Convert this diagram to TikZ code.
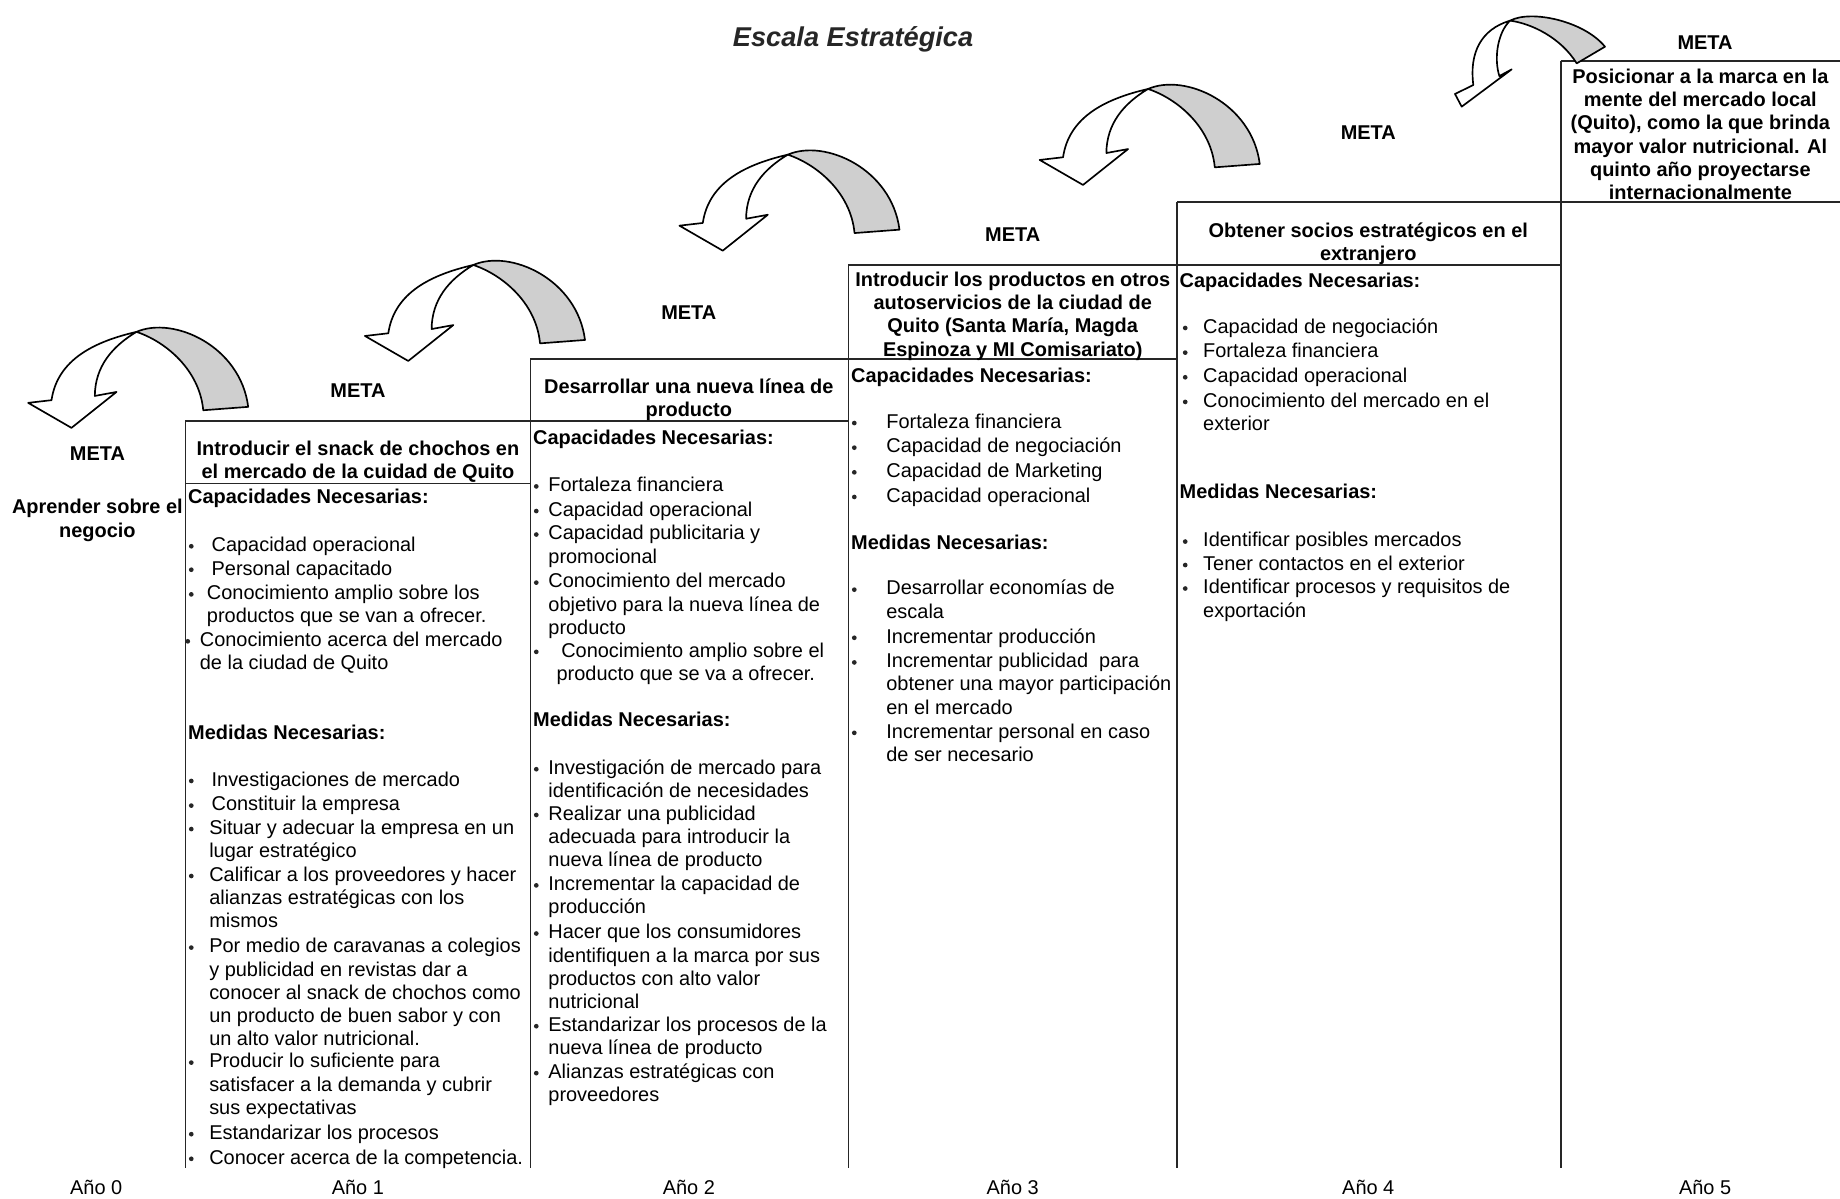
\documentclass[tikz,border=0pt]{standalone}
\usepackage{fontspec}
\setmainfont{Liberation Sans}
\newcommand\bodyfont{\fontsize{10.2pt}{11.9pt}\selectfont}
\newcounter{ln}
\tikzset{
  txt/.style={anchor=base west,inner sep=0pt,font=\bodyfont},
  txtb/.style={anchor=base west,inner sep=0pt,font=\bodyfont\bfseries},
  txtc/.style={anchor=base,inner sep=0pt,font=\bodyfont\bfseries},
  yearlbl/.style={anchor=base,inner sep=0pt,font=\bodyfont},
  boxline/.style={line width=0.9pt,draw=black!85},
  ribbonline/.style={line width=0.85pt,draw=black,line join=round},
  backface/.style={ribbonline,fill=gray!38},
  frontface/.style={ribbonline,fill=white},
  dot/.style={fill=black!85},
}
\newcommand\mytx[3]{\stepcounter{ln}\node[txt] (L\theln) at (#1,#2+5) {\begin{tabular}[t]{@{}l@{}}#3\end{tabular}};}
\newcommand\myhd[3]{\stepcounter{ln}\node[txtb] (L\theln) at (#1,#2+5) {#3};}
\newcommand\myctr[3]{\stepcounter{ln}\node[txtc] (L\theln) at (#1,#2+5) {\begin{tabular}[t]{@{}c@{}}#3\end{tabular}};}
\newcommand\mybul[4]{\fill[dot] (#1,#3+0.5) circle (1.2pt); \mytx{#2}{#3}{#4}}
\newcommand\ribbonA[2]{%
  \begin{scope}[shift={(#1,#2)}]
    \draw[backface] (403.3,225.8) .. controls (435,212) and (492,238) .. (498.5,289.7) -- (460.2,292.6) .. controls (457,258) and (428,234) .. (403.3,225.8) -- cycle;
    \draw[frontface] (330.9,284) .. controls (336,249) and (368,234) .. (403.3,225.8) .. controls (383,238) and (368,255) .. (367.8,280.4) -- (386.3,277) -- (347.9,307.6) -- (311,286.3) -- cycle;
  \end{scope}}
\begin{document}
\begin{tikzpicture}[x=0.6pt,y=-0.6pt]
\useasboundingbox (0,0) rectangle (1568,1021);
\fill[white] (0,0) rectangle (1568,1021);

% staircase lines
\draw[boxline] (158,359) -- (723,359);
\draw[boxline] (158,412) -- (452,412);
\draw[boxline] (452,306) -- (1003,306);
\draw[boxline] (723,225.5) -- (1330,225.5);
\draw[boxline] (1003,172) -- (1568,172);
\draw[boxline] (1330,52) -- (1568,52);
\draw[boxline] (158,359) -- (158,995);
\draw[boxline] (452,306) -- (452,995);
\draw[boxline] (723,225.5) -- (723,995);
\draw[boxline] (1003,172) -- (1003,995);
\draw[boxline] (1330,52) -- (1330,995);

% ribbon arrows
\ribbonA{-287}{57}
\ribbonA{0}{0}
\ribbonA{268}{-94}
\ribbonA{575}{-150}
\draw[backface] (1286.8,17.6) .. controls (1305,8) and (1350,18) .. (1367.7,39.8) -- (1343.6,54) .. controls (1330,32) and (1305,20) .. (1286.8,17.6) -- cycle;
\draw[frontface] (1255.5,72.4) .. controls (1252,45) and (1262,25) .. (1286.8,17.6) .. controls (1276,28) and (1273,50) .. (1277.7,64.8) -- (1288.2,59.1) -- (1245.6,90.9) -- (1239.9,80.1) -- cycle;

% title
\node[anchor=base,inner sep=0pt,font=\fontsize{13.9pt}{17pt}\selectfont\bfseries\itshape,text=black!85] (title) at (727,40) {Escala Estratégica};

% META labels
\node[txtc] (m0) at (83,392) {META};
\node[txtc] (m1) at (305,339) {META};
\node[txtc] (m2) at (587,272) {META};
\node[txtc] (m3) at (863,206) {META};
\node[txtc] (m4) at (1166,119) {META};
\node[txtc] (m5) at (1453,42) {META};

% goals
\myctr{83}{433}{Aprender sobre el\\negocio}
\myctr{305}{383}{Introducir el snack de chochos en\\el mercado de la cuidad de Quito}
\myctr{587}{330}{Desarrollar una nueva línea de\\producto}
\myctr{863}{239}{Introducir los productos en otros\\autoservicios de la ciudad de\\Quito (Santa María, Magda\\Espinoza y MI Comisariato)}
\myctr{1166}{197}{Obtener socios estratégicos en el\\extranjero}
\myctr{1449}{66}{Posicionar a la marca en la\\mente del mercado local\\(Quito), como la que brinda\\mayor valor nutricional. Al\\quinto año proyectarse\\internacionalmente}

% Box 1
\myhd{160}{424}{Capacidades Necesarias:}
\mybul{163}{180}{465}{Capacidad operacional}
\mybul{163}{180}{485}{Personal capacitado}
\mybul{163}{176}{506}{Conocimiento amplio sobre los\\productos que se van a ofrecer.}
\mybul{160}{170}{546}{Conocimiento acerca del mercado\\de la ciudad de Quito}
\myhd{160}{625}{Medidas Necesarias:}
\mybul{163}{180}{665}{Investigaciones de mercado}
\mybul{163}{180}{686}{Constituir la empresa}
\mybul{163}{178}{706}{Situar y adecuar la empresa en un\\lugar estratégico}
\mybul{163}{178}{746}{Calificar a los proveedores y hacer\\alianzas estratégicas con los\\mismos}
\mybul{163}{178}{807}{Por medio de caravanas a colegios\\y publicidad en revistas dar a\\conocer al snack de chochos como\\un producto de buen sabor y con\\un alto valor nutricional.}
\mybul{163}{178}{905}{Producir lo suficiente para\\satisfacer a la demanda y cubrir\\sus expectativas}
\mybul{163}{178}{966}{Estandarizar los procesos}
\mybul{163}{178}{987}{Conocer acerca de la competencia.}

% Box 2
\myhd{454}{374}{Capacidades Necesarias:}
\mybul{457}{467}{414}{Fortaleza financiera}
\mybul{457}{467}{435}{Capacidad operacional}
\mybul{457}{467}{455}{Capacidad publicitaria y\\promocional}
\mybul{457}{467}{496}{Conocimiento del mercado\\objetivo para la nueva línea de\\producto}
\mybul{457}{474}{555}{\hspace*{2.4pt}Conocimiento amplio sobre el\\producto que se va a ofrecer.}
\myhd{454}{614}{Medidas Necesarias:}
\mybul{457}{467}{655}{Investigación de mercado para\\identificación de necesidades}
\mybul{457}{467}{694}{Realizar una publicidad\\adecuada para introducir la\\nueva línea de producto}
\mybul{457}{467}{754}{Incrementar la capacidad de\\producción}
\mybul{457}{467}{795}{Hacer que los consumidores\\identifiquen a la marca por sus\\productos con alto valor\\nutricional}
\mybul{457}{467}{874}{Estandarizar los procesos de la\\nueva línea de producto}
\mybul{457}{467}{914}{Alianzas estratégicas con\\proveedores}

% Box 3
\myhd{725}{321}{Capacidades Necesarias:}
\mybul{728}{755}{360}{Fortaleza financiera}
\mybul{728}{755}{381}{Capacidad de negociación}
\mybul{728}{755}{402}{Capacidad de Marketing}
\mybul{728}{755}{423}{Capacidad operacional}
\myhd{725}{463}{Medidas Necesarias:}
\mybul{728}{755}{502}{Desarrollar economías de\\escala}
\mybul{728}{755}{543}{Incrementar producción}
\mybul{728}{755}{564}{Incrementar publicidad\ \ para\\obtener una mayor participación\\en el mercado}
\mybul{728}{755}{624}{Incrementar personal en caso\\de ser necesario}

% Box 4
\myhd{1005}{240}{Capacidades Necesarias:}
\mybul{1010}{1025}{279}{Capacidad de negociación}
\mybul{1010}{1025}{300}{Fortaleza financiera}
\mybul{1010}{1025}{321}{Capacidad operacional}
\mybul{1010}{1025}{342}{Conocimiento del mercado en el\\exterior}
\myhd{1005}{420}{Medidas Necesarias:}
\mybul{1010}{1025}{461}{Identificar posibles mercados}
\mybul{1010}{1025}{481}{Tener contactos en el exterior}
\mybul{1010}{1025}{501}{Identificar procesos y requisitos de\\exportación}

% years
\node[yearlbl] (y0) at (82,1018) {Año 0};
\node[yearlbl] (y1) at (305,1018) {Año 1};
\node[yearlbl] (y2) at (587,1018) {Año 2};
\node[yearlbl] (y3) at (863,1018) {Año 3};
\node[yearlbl] (y4) at (1166,1018) {Año 4};
\node[yearlbl] (y5) at (1453,1018) {Año 5};
\end{tikzpicture}
\end{document}
